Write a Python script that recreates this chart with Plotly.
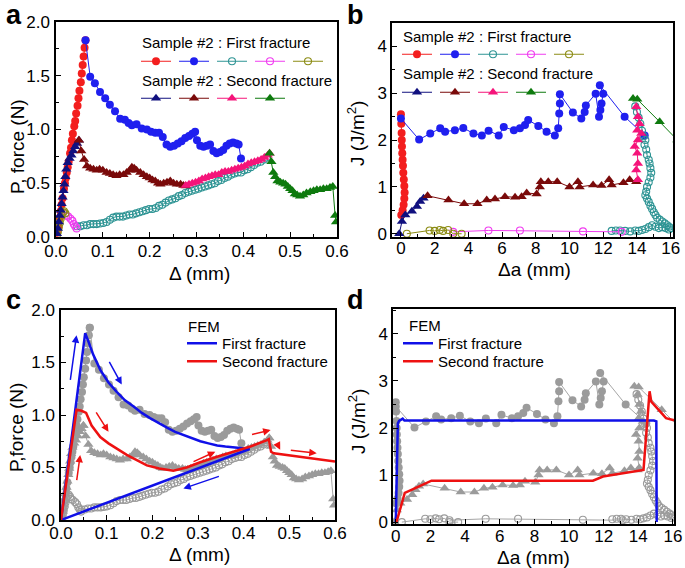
import plotly.graph_objects as go

W, H = 685, 568

# ---------------- Panel a / c : P (N) vs Delta (mm), sample #2 ----------------
a_red_x = [0.002, 0.005, 0.008, 0.010, 0.012, 0.014, 0.017, 0.019, 0.021, 0.023, 0.025, 0.027, 0.030, 0.032,
           0.034, 0.036, 0.039, 0.041, 0.043, 0.046, 0.048, 0.050, 0.053, 0.055, 0.057, 0.059, 0.061, 0.063]
a_red_y = [0.04, 0.10, 0.18, 0.24, 0.30, 0.36, 0.45, 0.50, 0.55, 0.60, 0.65, 0.70, 0.78, 0.83,
           0.90, 0.96, 1.03, 1.08, 1.15, 1.22, 1.29, 1.36, 1.44, 1.52, 1.60, 1.68, 1.76, 1.83]

a_blue_x = [0.063, 0.073, 0.083, 0.094, 0.105, 0.115, 0.126, 0.137, 0.147, 0.155, 0.162, 0.172, 0.183, 0.194,
            0.203, 0.212, 0.220, 0.228, 0.236, 0.244, 0.252, 0.260, 0.268, 0.276, 0.284, 0.291, 0.297, 0.301,
            0.308, 0.315, 0.322, 0.329, 0.336, 0.343, 0.350, 0.357, 0.364, 0.371, 0.378, 0.385, 0.390, 0.395]
a_blue_y = [1.83, 1.49, 1.43, 1.35, 1.29, 1.23, 1.17, 1.10, 1.09, 1.06, 1.04, 1.05, 1.01, 1.00,
            0.98, 0.97, 0.97, 0.93, 0.86, 0.84, 0.85, 0.87, 0.89, 0.92, 0.94, 0.96, 0.98, 0.90,
            0.85, 0.84, 0.85, 0.86, 0.80, 0.78, 0.79, 0.81, 0.85, 0.87, 0.88, 0.87, 0.86, 0.73]

a_teal_x = [0.045, 0.052, 0.059, 0.066, 0.073, 0.080, 0.087, 0.094, 0.101, 0.108, 0.115, 0.122, 0.129, 0.136,
            0.143, 0.150, 0.157, 0.164, 0.171, 0.178, 0.185, 0.192, 0.199, 0.206, 0.213, 0.220, 0.227, 0.234,
            0.241, 0.248, 0.255, 0.262, 0.269, 0.276, 0.283, 0.290, 0.297, 0.304, 0.311, 0.318, 0.325, 0.332,
            0.339, 0.346, 0.353, 0.360, 0.367, 0.374, 0.381, 0.388, 0.395, 0.402, 0.409, 0.416, 0.423, 0.430,
            0.437, 0.444, 0.450]
a_teal_y = [0.10, 0.10, 0.11, 0.11, 0.12, 0.12, 0.12, 0.125, 0.13, 0.14, 0.16, 0.18, 0.19, 0.19,
            0.19, 0.20, 0.21, 0.21, 0.22, 0.23, 0.24, 0.25, 0.26, 0.26, 0.27, 0.29, 0.30, 0.32,
            0.34, 0.35, 0.36, 0.38, 0.39, 0.41, 0.42, 0.43, 0.44, 0.45, 0.46, 0.47, 0.48, 0.49,
            0.50, 0.52, 0.53, 0.55, 0.56, 0.58, 0.59, 0.60, 0.60, 0.62, 0.63, 0.65, 0.67, 0.69,
            0.70, 0.72, 0.74]

a_magenta_x = [0.044, 0.041, 0.038, 0.035, 0.031, 0.026, 0.022]
a_magenta_y = [0.08, 0.10, 0.12, 0.15, 0.17, 0.19, 0.20]

a_olive_x = [0.020, 0.017, 0.015, 0.012, 0.010, 0.008, 0.006, 0.004, 0.002]
a_olive_y = [0.22, 0.24, 0.23, 0.20, 0.17, 0.13, 0.09, 0.05, 0.02]

a_navy_x = [0.002, 0.004, 0.006, 0.008, 0.010, 0.012, 0.014, 0.016, 0.018, 0.020, 0.022, 0.025, 0.029, 0.033,
            0.037, 0.041, 0.045, 0.049]
a_navy_y = [0.03, 0.08, 0.14, 0.20, 0.25, 0.31, 0.37, 0.43, 0.49, 0.56, 0.63, 0.69, 0.73, 0.76,
            0.80, 0.84, 0.87, 0.90]

a_brown_x = [0.049, 0.054, 0.060, 0.066, 0.073, 0.080, 0.087, 0.093, 0.100, 0.108, 0.115, 0.122, 0.129, 0.136,
             0.144, 0.151, 0.158, 0.162, 0.167, 0.172, 0.180, 0.187, 0.194, 0.200, 0.206, 0.212, 0.218, 0.223,
             0.230, 0.237, 0.244, 0.251, 0.258, 0.266, 0.272, 0.277]
a_brown_y = [0.90, 0.80, 0.72, 0.66, 0.64, 0.63, 0.62, 0.63, 0.62, 0.60, 0.59, 0.58, 0.57, 0.58,
             0.58, 0.60, 0.62, 0.65, 0.64, 0.62, 0.60, 0.58, 0.56, 0.55, 0.53, 0.52, 0.50, 0.49,
             0.50, 0.51, 0.52, 0.50, 0.49, 0.49, 0.48, 0.475]

a_pink_x = [0.277, 0.284, 0.291, 0.298, 0.305, 0.312, 0.319, 0.326, 0.333, 0.340, 0.347, 0.354, 0.361, 0.368,
            0.375, 0.382, 0.389, 0.396, 0.403, 0.410, 0.417, 0.424, 0.431, 0.438, 0.445, 0.452, 0.456]
a_pink_y = [0.48, 0.49, 0.50, 0.51, 0.52, 0.54, 0.55, 0.56, 0.57, 0.58, 0.58, 0.60, 0.61, 0.61,
            0.62, 0.63, 0.64, 0.65, 0.66, 0.68, 0.69, 0.70, 0.71, 0.72, 0.74, 0.76, 0.78]

a_green_x = [0.456, 0.460, 0.464, 0.468, 0.473, 0.479, 0.485, 0.490, 0.495, 0.500, 0.505, 0.510, 0.515, 0.521,
             0.528, 0.535, 0.543, 0.550, 0.557, 0.564, 0.571, 0.578, 0.585, 0.591, 0.596, 0.598]
a_green_y = [0.78, 0.70, 0.60, 0.56, 0.52, 0.51, 0.50, 0.49, 0.47, 0.45, 0.43, 0.40, 0.39, 0.38,
             0.39, 0.41, 0.42, 0.43, 0.44, 0.44, 0.45, 0.45, 0.46, 0.47, 0.20, 0.14]

# ---------------- Panel b / d : J (J/m2) vs Delta a (mm) ----------------
b_red_x = [0.02, 0.10, 0.16, 0.20, 0.22, 0.20, 0.17, 0.14, 0.12, 0.10, 0.08, 0.06, 0.05, 0.04, 0.02, 0.00]
b_red_y = [0.40, 0.50, 0.62, 0.75, 0.88, 1.02, 1.16, 1.30, 1.45, 1.58, 1.72, 1.86, 2.00, 2.15, 2.35, 2.55]

b_blue_x = [0.00, 1.08, 1.74, 2.33, 2.62, 3.20, 3.70, 4.30, 4.80, 5.20, 5.80, 6.10, 6.70, 7.06, 7.36,
            7.55, 8.15, 8.64, 9.13, 9.33, 9.39, 9.43, 9.43, 10.20, 10.70, 10.90, 10.97, 11.55, 11.75, 11.83,
            11.90, 12.00, 11.80, 13.27, 14.46]
b_blue_y = [2.46, 2.01, 2.14, 2.25, 2.18, 2.21, 2.26, 2.14, 2.10, 2.20, 2.10, 2.28, 2.21, 2.25, 2.32,
            2.43, 2.30, 2.18, 2.10, 2.25, 2.57, 2.78, 2.98, 2.59, 2.46, 2.60, 2.74, 2.99, 2.50, 2.64,
            2.78, 2.99, 3.17, 2.50, 2.10]

b_teal_x = [13.9, 14.0, 14.1, 14.2, 14.3, 14.4, 14.5, 14.45, 14.55, 14.6, 14.7, 14.75, 14.8, 14.85, 14.8,
            14.7, 14.6, 14.55, 14.5, 14.6, 14.7, 14.8, 14.9, 15.0, 15.1, 15.2, 15.35, 15.5, 15.65, 15.8,
            15.9, 16.0, 15.9, 15.7, 15.5, 15.3, 15.1, 14.9, 14.7, 14.5, 14.3, 14.1, 13.9, 13.6, 13.3,
            13.0, 12.75, 12.5]
b_teal_y = [2.72, 2.60, 2.48, 2.35, 2.20, 2.08, 2.00, 1.90, 1.80, 1.68, 1.58, 1.50, 1.40, 1.30, 1.20,
            1.10, 1.00, 0.90, 0.82, 0.75, 0.68, 0.60, 0.53, 0.46, 0.40, 0.34, 0.30, 0.26, 0.22, 0.18,
            0.15, 0.12, 0.09, 0.12, 0.14, 0.12, 0.15, 0.18, 0.14, 0.10, 0.08, 0.06, 0.07, 0.05, 0.06,
            0.07, 0.07, 0.06]

b_magenta_x = [13.10, 10.80, 7.06, 5.19, 3.10]
b_magenta_y = [0.04, 0.05, 0.07, 0.07, 0.04]

b_olive_x = [3.60, 3.10, 2.80, 2.50, 2.30, 2.00, 1.70, 0.35]
b_olive_y = [0.00, 0.00, 0.08, 0.06, 0.08, 0.06, 0.07, 0.00]

b_navy_x = [-0.10, 0.06, 0.26, 0.65, 0.95, 1.14, 1.34]
b_navy_y = [0.00, 0.26, 0.40, 0.48, 0.58, 0.69, 0.76]

b_brown_x = [1.58, 2.82, 3.75, 4.54, 5.09, 5.58, 6.17, 6.77, 7.16, 7.46, 8.05, 8.24, 8.30, 8.74, 9.27,
             10.00, 10.50, 10.60, 11.40, 11.90, 12.35, 12.50, 13.20, 13.57, 13.96]
b_brown_y = [0.81, 0.72, 0.64, 0.64, 0.72, 0.74, 0.79, 0.78, 0.79, 0.87, 0.85, 1.00, 1.11, 1.11, 1.11,
             1.00, 1.11, 1.00, 1.04, 1.03, 1.15, 1.04, 1.09, 1.15, 1.11]

b_pink_x = [14.06, 13.96, 14.06, 14.02, 13.87, 14.06, 14.26, 14.02, 14.16, 14.06, 13.96]
b_pink_y = [1.15, 1.36, 1.50, 1.72, 1.86, 2.00, 2.14, 2.21, 2.35, 2.50, 2.71]

b_green_x = [13.77, 14.02, 15.35, 16.40]
b_green_y = [2.89, 2.87, 2.39, 2.00]

# ---------------- FEM curves ----------------
c_fem1_x = [0.0, 0.053, 0.060, 0.070, 0.086, 0.104, 0.122, 0.140, 0.159, 0.177, 0.195, 0.214, 0.232, 0.250,
            0.268, 0.287, 0.305, 0.323, 0.342, 0.360, 0.378, 0.396, 0.413, 0.0]
c_fem1_y = [0.0, 1.78, 1.70, 1.58, 1.43, 1.31, 1.22, 1.14, 1.08, 1.02, 0.97, 0.92, 0.88, 0.84,
            0.81, 0.78, 0.75, 0.73, 0.71, 0.70, 0.69, 0.68, 0.676, 0.0]
c_fem2_x = [0.0, 0.034, 0.045, 0.055, 0.067, 0.086, 0.104, 0.122, 0.144, 0.166, 0.188, 0.215, 0.246, 0.275,
            0.305, 0.340, 0.378, 0.415, 0.451, 0.455, 0.460, 0.466, 0.600]
c_fem2_y = [0.0, 1.05, 1.04, 1.02, 0.90, 0.79, 0.73, 0.68, 0.62, 0.57, 0.52, 0.49, 0.47, 0.50,
            0.55, 0.60, 0.65, 0.70, 0.76, 0.77, 0.65, 0.635, 0.556]

d_fem1_x = [0.0, 0.08, 0.12, 0.19, 0.30, 0.40, 0.50, 14.90, 15.04, 15.06]
d_fem1_y = [0.0, 1.50, 2.10, 2.15, 2.17, 2.20, 2.16, 2.16, 2.14, 0.0]
d_fem2_x = [0.04, 0.52, 1.00, 2.06, 11.38, 11.96, 14.30, 14.65, 14.75, 15.00, 15.23, 15.60, 16.00, 16.20]
d_fem2_y = [0.0, 0.62, 0.70, 0.88, 0.88, 0.97, 1.11, 2.78, 2.56, 2.45, 2.35, 2.21, 2.17, 2.17]

# arrows in panel c: (tail x, tail y, head x, head y, colour key)
c_arrows = [(0.020, 1.32, 0.034, 1.76, "blue"), (0.104, 1.52, 0.133, 1.29, "blue"),
            (0.349, 0.42, 0.268, 0.30, "blue"),
            (0.034, 0.365, 0.042, 0.62, "red"), (0.075, 1.04, 0.104, 0.84, "red"),
            (0.287, 0.55, 0.338, 0.65, "red"), (0.415, 0.81, 0.459, 0.857, "red"),
            (0.473, 0.73, 0.480, 0.67, "red"), (0.500, 0.667, 0.560, 0.635, "red")]

FONT = "Liberation Sans, Arial, sans-serif"
C = dict(red="#f31e1e", blue="#1f1fef", teal="#2e9494", magenta="#f03cf0", olive="#8c8c14",
         navy="#10107f", brown="#7a0a0a", pink="#f5147a", green="#0e7a0e")
GRAY, GRAYL = "#9b9b9b", "#a6a6a6"
FEM_BLUE, FEM_RED = "#1010e8", "#ee1111"

fig = go.Figure()

first = [("red", a_red_x, a_red_y, b_red_x, b_red_y, "circle"),
         ("blue", a_blue_x, a_blue_y, b_blue_x, b_blue_y, "circle"),
         ("teal", a_teal_x, a_teal_y, b_teal_x, b_teal_y, "circle-open"),
         ("magenta", a_magenta_x, a_magenta_y, b_magenta_x, b_magenta_y, "circle-open"),
         ("olive", a_olive_x, a_olive_y, b_olive_x, b_olive_y, "circle-open")]
second = [("navy", a_navy_x, a_navy_y, b_navy_x, b_navy_y, "triangle-up"),
          ("brown", a_brown_x, a_brown_y, b_brown_x, b_brown_y, "triangle-up"),
          ("pink", a_pink_x, a_pink_y, b_pink_x, b_pink_y, "triangle-up"),
          ("green", a_green_x, a_green_y, b_green_x, b_green_y, "triangle-up")]


def marker(sym, col):
    if sym == "circle-open":
        return dict(symbol=sym, size=7, color=col, line=dict(color=col, width=1.1))
    if sym == "circle":
        return dict(symbol=sym, size=8, color=col, line=dict(width=0))
    return dict(symbol=sym, size=9, color=col, line=dict(width=0))


def add_series(group, leg_a, leg_b):
    for key, ax_, ay_, bx_, by_, sym in group:
        col = C[key]
        fig.add_trace(go.Scatter(x=ax_, y=ay_, mode="lines+markers", xaxis="x", yaxis="y",
                                 line=dict(color=col, width=1), marker=marker(sym, col),
                                 name=" ", legend=leg_a, showlegend=True, hoverinfo="skip"))
        fig.add_trace(go.Scatter(x=bx_, y=by_, mode="lines+markers", xaxis="x2", yaxis="y2",
                                 line=dict(color=col, width=1), marker=marker(sym, col),
                                 name=" ", legend=leg_b, showlegend=True, hoverinfo="skip"))
        # grey copies in c and d
        fig.add_trace(go.Scatter(x=ax_, y=ay_, mode="lines+markers", xaxis="x3", yaxis="y3",
                                 line=dict(color=GRAYL, width=1), marker=marker(sym, GRAY),
                                 showlegend=False, hoverinfo="skip"))
        fig.add_trace(go.Scatter(x=bx_, y=by_, mode="lines+markers", xaxis="x4", yaxis="y4",
                                 line=dict(color=GRAYL, width=1), marker=marker(sym, GRAY),
                                 showlegend=False, hoverinfo="skip"))


add_series(first, "legend", "legend3")
add_series(second, "legend2", "legend4")

fig.add_trace(go.Scatter(x=c_fem1_x, y=c_fem1_y, mode="lines", xaxis="x3", yaxis="y3",
                         line=dict(color=FEM_BLUE, width=2.5), name="First fracture", legend="legend5"))
fig.add_trace(go.Scatter(x=c_fem2_x, y=c_fem2_y, mode="lines", xaxis="x3", yaxis="y3",
                         line=dict(color=FEM_RED, width=2.5), name="Second fracture", legend="legend7"))
fig.add_trace(go.Scatter(x=d_fem1_x, y=d_fem1_y, mode="lines", xaxis="x4", yaxis="y4",
                         line=dict(color=FEM_BLUE, width=2.5), name="First fracture", legend="legend6"))
fig.add_trace(go.Scatter(x=d_fem2_x, y=d_fem2_y, mode="lines", xaxis="x4", yaxis="y4",
                         line=dict(color=FEM_RED, width=2.5), name="Second fracture", legend="legend8"))


def axis(dom_px, rng, dtick, minor, fmt, anchor, horizontal, tlstand):
    if horizontal:
        dom = [dom_px[0] / W, dom_px[1] / W]
    else:
        dom = [1 - dom_px[1] / H, 1 - dom_px[0] / H]
    return dict(domain=dom, range=rng, anchor=anchor, dtick=dtick, tick0=0, tickformat=fmt,
                showline=True, linecolor="black", linewidth=1.5, mirror=True,
                ticks="inside", ticklen=5, tickwidth=1.2, tickcolor="black",
                minor=dict(ticks="inside", ticklen=3, tickwidth=1, tickcolor="black", dtick=minor,
                           tick0=0, showgrid=False),
                showgrid=False, zeroline=False, ticklabelstandoff=tlstand, automargin=False,
                tickfont=dict(family=FONT, size=17, color="black"), fixedrange=True)


layout = dict(
    width=W, height=H, margin=dict(l=0, r=0, t=0, b=0, autoexpand=False),
    paper_bgcolor="white", plot_bgcolor="white",
    font=dict(family=FONT, color="black"), showlegend=True,
    xaxis=axis([56, 337], [0, 0.6], 0.1, 0.05, ".1f", "y", True, -2),
    yaxis=axis([22, 237], [0, 2], 0.5, 0.25, ".1f", "x", False, 1),
    xaxis2=axis([392, 673], [-0.53, 16.14], 2, 1, "d", "y2", True, -5),
    yaxis2=axis([23, 237], [-0.07, 4.5], 1, 0.5, "d", "x2", False, 0),
    xaxis3=axis([61, 335], [0, 0.6], 0.1, 0.05, ".1f", "y3", True, -3),
    yaxis3=axis([310, 520], [0, 2], 0.5, 0.25, ".1f", "x3", False, 1),
    xaxis4=axis([393, 674], [-0.16, 16.06], 2, 1, "d", "y4", True, -4),
    yaxis4=axis([309, 524], [-0.04, 4.53], 1, 0.5, "d", "x4", False, 0),
)

row_leg = dict(orientation="h", xanchor="left", yanchor="top", entrywidthmode="fraction",
               entrywidth=38 / W, bgcolor="rgba(0,0,0,0)", font=dict(family=FONT, size=15),
               itemclick=False, itemdoubleclick=False)
layout["legend"] = dict(row_leg, x=136 / W, y=1 - 45 / H)
layout["legend2"] = dict(row_leg, x=136 / W, y=1 - 82 / H)
layout["legend3"] = dict(row_leg, x=397 / W, y=1 - 38 / H)
layout["legend4"] = dict(row_leg, x=397 / W, y=1 - 76 / H)
fem_leg = dict(orientation="v", xanchor="left", yanchor="top", bgcolor="rgba(0,0,0,0)",
               font=dict(family=FONT, size=15, color="black"),
               itemclick=False, itemdoubleclick=False)
layout["legend5"] = dict(fem_leg, x=182 / W, y=1 - 327 / H)
layout["legend7"] = dict(fem_leg, x=182 / W, y=1 - 345 / H)
layout["legend6"] = dict(fem_leg, x=398 / W, y=1 - 327 / H)
layout["legend8"] = dict(fem_leg, x=398 / W, y=1 - 345 / H)

ann = []
# legend headings
for txt, xp, yp in [("Sample #2 : First fracture", 140, 43), ("Sample #2 : Second fracture", 140, 80),
                    ("Sample #2 : First fracture", 401, 37), ("Sample #2 : Second fracture", 401, 74),
                    ("FEM", 186, 326), ("FEM", 407, 325)]:
    ann.append(dict(text=txt, x=xp / W, y=1 - yp / H, xref="paper", yref="paper", xanchor="left",
                    yanchor="middle", showarrow=False, font=dict(family=FONT, size=15, color="black")))
# axis titles
for txt, xp, yp, ang in [("Δ (mm)", 199, 273, 0), ("Δa (mm)", 534, 269, 0),
                         ("Δ (mm)", 200, 554, 0), ("Δa (mm)", 533, 557, 0),
                         ("P, force (N)", 17, 147, -90), ("J (J/m<sup>2</sup>)", 356, 134, -90),
                         ("P,force (N)", 16, 428, -90), ("J (J/m<sup>2</sup>)", 357, 422, -90)]:
    ann.append(dict(text=txt, x=xp / W, y=1 - yp / H, xref="paper", yref="paper", xanchor="center",
                    yanchor="middle", textangle=ang, showarrow=False,
                    font=dict(family=FONT, size=19, color="black")))
# panel letters
for txt, xp, yp in [("a", 14, 15), ("b", 355, 15), ("c", 13, 300), ("d", 355, 300)]:
    ann.append(dict(text="<b>" + txt + "</b>", x=xp / W, y=1 - yp / H, xref="paper", yref="paper",
                    xanchor="center", yanchor="middle", showarrow=False,
                    font=dict(family=FONT, size=27, color="black")))
arrow_col = dict(blue=FEM_BLUE, red=FEM_RED)
for tx, ty, hx, hy, ck in c_arrows:
    ann.append(dict(x=hx, y=hy, ax=tx, ay=ty, xref="x3", yref="y3", axref="x3", ayref="y3", text="",
                    showarrow=True, arrowhead=2, arrowsize=1, arrowwidth=1.5,
                    arrowcolor=arrow_col[ck]))
layout["annotations"] = ann

fig.update_layout(**layout)
fig.write_html("out.html", config={"displayModeBar": False},
               post_script="document.body.style.margin='0';document.body.style.overflow='hidden';")
